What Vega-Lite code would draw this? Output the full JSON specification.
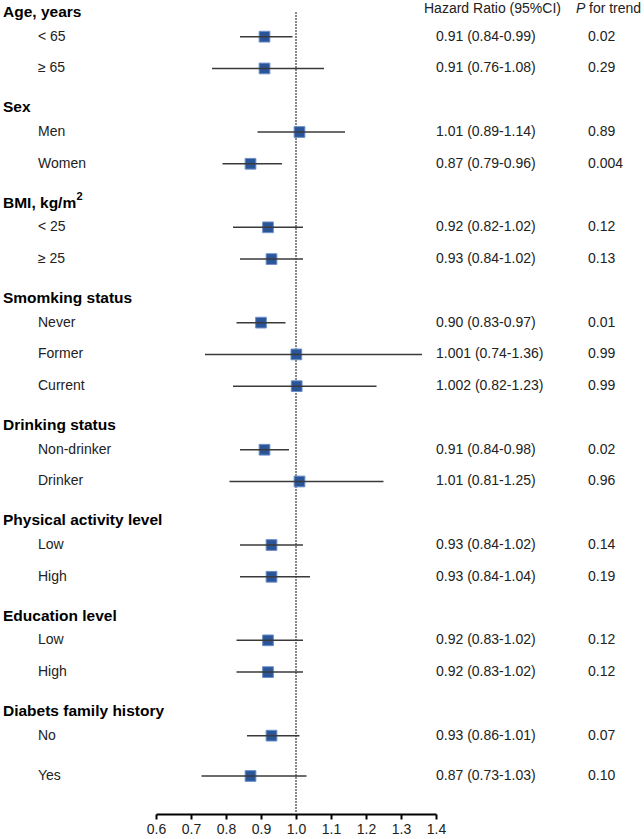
{
  "$schema": "https://vega.github.io/schema/vega-lite/v6.json",
  "autosize": "none",
  "width": 280,
  "height": 806,
  "padding": {"left": 156, "top": 8, "right": 208, "bottom": 25},
  "background": "white",
  "config": {
    "view": {"stroke": null},
    "font": "Liberation Sans",
    "axisX": {"tickCount": 9, "format": ".1f", "grid": false,
      "domainColor": "#000000", "domainWidth": 2, "tickColor": "#000000", "tickWidth": 2, "tickSize": 5,
      "labelFontSize": 14, "labelColor": "#222222", "labelPadding": 3, "labelFont": "Liberation Sans",
      "labelOverlap": false, "labelBound": false, "labelFlush": false}
  },
  "data": {"values": [
    {"type": "colhead", "pos": -0.86, "hrhead": "Hazard Ratio (95%CI)", "phead": "P", "ptrend": "for trend"},
    {"type": "header", "label": "Age, years", "pos": -0.78},
    {"type": "item", "label": "< 65", "pos": 0, "hr": 0.91, "lo": 0.84, "hi": 0.99, "ci": "0.91 (0.84-0.99)", "p": "0.02"},
    {"type": "item", "label": "≥ 65", "pos": 1, "hr": 0.91, "lo": 0.76, "hi": 1.08, "ci": "0.91 (0.76-1.08)", "p": "0.29"},
    {"type": "header", "label": "Sex", "pos": 2.22},
    {"type": "item", "label": "Men", "pos": 3, "hr": 1.01, "lo": 0.89, "hi": 1.14, "ci": "1.01 (0.89-1.14)", "p": "0.89"},
    {"type": "item", "label": "Women", "pos": 4, "hr": 0.87, "lo": 0.79, "hi": 0.96, "ci": "0.87 (0.79-0.96)", "p": "0.004"},
    {"type": "header", "label": "BMI, kg/m", "sup": "2", "pos": 5.22},
    {"type": "item", "label": "< 25", "pos": 6, "hr": 0.92, "lo": 0.82, "hi": 1.02, "ci": "0.92 (0.82-1.02)", "p": "0.12"},
    {"type": "item", "label": "≥ 25", "pos": 7, "hr": 0.93, "lo": 0.84, "hi": 1.02, "ci": "0.93 (0.84-1.02)", "p": "0.13"},
    {"type": "header", "label": "Smomking status", "pos": 8.22},
    {"type": "item", "label": "Never", "pos": 9, "hr": 0.90, "lo": 0.83, "hi": 0.97, "ci": "0.90 (0.83-0.97)", "p": "0.01"},
    {"type": "item", "label": "Former", "pos": 10, "hr": 1.001, "lo": 0.74, "hi": 1.36, "ci": "1.001 (0.74-1.36)", "p": "0.99"},
    {"type": "item", "label": "Current", "pos": 11, "hr": 1.002, "lo": 0.82, "hi": 1.23, "ci": "1.002 (0.82-1.23)", "p": "0.99"},
    {"type": "header", "label": "Drinking status", "pos": 12.22},
    {"type": "item", "label": "Non-drinker", "pos": 13, "hr": 0.91, "lo": 0.84, "hi": 0.98, "ci": "0.91 (0.84-0.98)", "p": "0.02"},
    {"type": "item", "label": "Drinker", "pos": 14, "hr": 1.01, "lo": 0.81, "hi": 1.25, "ci": "1.01 (0.81-1.25)", "p": "0.96"},
    {"type": "header", "label": "Physical activity level", "pos": 15.22},
    {"type": "item", "label": "Low", "pos": 16, "hr": 0.93, "lo": 0.84, "hi": 1.02, "ci": "0.93 (0.84-1.02)", "p": "0.14"},
    {"type": "item", "label": "High", "pos": 17, "hr": 0.93, "lo": 0.84, "hi": 1.04, "ci": "0.93 (0.84-1.04)", "p": "0.19"},
    {"type": "header", "label": "Education level", "pos": 18.22},
    {"type": "item", "label": "Low", "pos": 19, "hr": 0.92, "lo": 0.83, "hi": 1.02, "ci": "0.92 (0.83-1.02)", "p": "0.12"},
    {"type": "item", "label": "High", "pos": 20, "hr": 0.92, "lo": 0.83, "hi": 1.02, "ci": "0.92 (0.83-1.02)", "p": "0.12"},
    {"type": "header", "label": "Diabets family history", "pos": 21.22},
    {"type": "item", "label": "No", "pos": 22, "hr": 0.93, "lo": 0.86, "hi": 1.01, "ci": "0.93 (0.86-1.01)", "p": "0.07"},
    {"type": "item", "label": "Yes", "pos": 23.27, "hr": 0.87, "lo": 0.73, "hi": 1.03, "ci": "0.87 (0.73-1.03)", "p": "0.10"}
  ]},
  "encoding": {
    "y": {"field": "pos", "type": "quantitative", "scale": {"domain": [-0.903, 24.466], "reverse": true, "nice": false, "zero": false}, "axis": null}
  },
  "layer": [
    {
      "mark": {"type": "rule", "color": "#888888", "strokeDash": [1, 2], "strokeWidth": 1},
      "encoding": {
        "x": {"datum": 1.0, "type": "quantitative", "title": null, "scale": {"domain": [0.6, 1.4], "nice": false, "zero": false}},
        "y": {"datum": -0.764, "type": "quantitative"},
        "y2": {"datum": 24.466}
      }
    },
    {
      "transform": [{"filter": "datum.type === 'item'"}],
      "mark": {"type": "point", "shape": "square", "filled": true, "size": 115, "color": "#2a5599", "stroke": "#6d8fc9", "strokeWidth": 1, "opacity": 1},
      "encoding": {"x": {"field": "hr", "type": "quantitative", "title": null}}
    },
    {
      "transform": [{"filter": "datum.type === 'item'"}],
      "mark": {"type": "rule", "color": "#3a3a3a", "strokeWidth": 1.5},
      "encoding": {"x": {"field": "lo", "type": "quantitative", "title": null}, "x2": {"field": "hi"}}
    },
    {
      "transform": [{"filter": "datum.type === 'header'"}],
      "mark": {"type": "text", "align": "left", "baseline": "middle", "fontSize": 15.5, "fontWeight": "bold", "color": "#000000", "x": -153},
      "encoding": {"text": {"field": "label"}}
    },
    {
      "transform": [{"filter": "datum.sup != null"}],
      "mark": {"type": "text", "align": "left", "baseline": "middle", "fontSize": 11, "fontWeight": "bold", "color": "#000000", "x": -79.5, "dy": -6},
      "encoding": {"text": {"field": "sup"}}
    },
    {
      "transform": [{"filter": "datum.type === 'item'"}],
      "mark": {"type": "text", "align": "left", "baseline": "middle", "fontSize": 14, "color": "#222222", "x": -118},
      "encoding": {"text": {"field": "label"}}
    },
    {
      "transform": [{"filter": "datum.type === 'item'"}],
      "mark": {"type": "text", "align": "left", "baseline": "middle", "fontSize": 14, "color": "#222222", "x": 280},
      "encoding": {"text": {"field": "ci"}}
    },
    {
      "transform": [{"filter": "datum.type === 'item'"}],
      "mark": {"type": "text", "align": "left", "baseline": "middle", "fontSize": 14, "color": "#222222", "x": 432},
      "encoding": {"text": {"field": "p"}}
    },
    {
      "transform": [{"filter": "datum.type === 'colhead'"}],
      "mark": {"type": "text", "align": "left", "baseline": "middle", "fontSize": 14, "color": "#222222", "x": 268},
      "encoding": {"text": {"field": "hrhead"}}
    },
    {
      "transform": [{"filter": "datum.type === 'colhead'"}],
      "mark": {"type": "text", "align": "left", "baseline": "middle", "fontSize": 14, "fontStyle": "italic", "color": "#222222", "x": 420},
      "encoding": {"text": {"field": "phead"}}
    },
    {
      "transform": [{"filter": "datum.type === 'colhead'"}],
      "mark": {"type": "text", "align": "left", "baseline": "middle", "fontSize": 14, "color": "#222222", "x": 433},
      "encoding": {"text": {"field": "ptrend"}}
    }
  ]
}
